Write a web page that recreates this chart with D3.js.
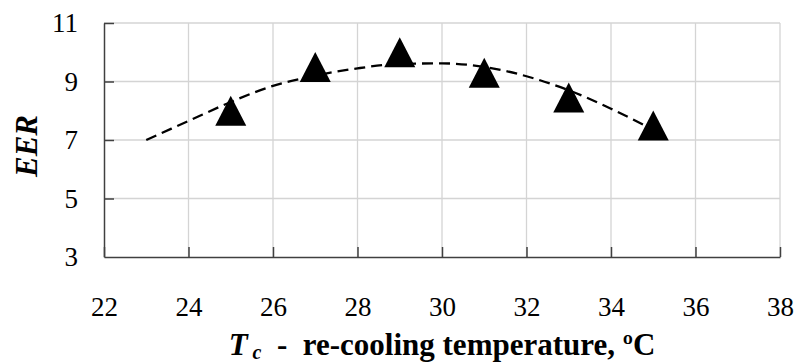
<!DOCTYPE html>
<html>
<head>
<meta charset="utf-8">
<style>
    body { margin: 0; background: #fff; }
    svg { display: block; font-family: "Liberation Serif", "DejaVu Serif", serif; }
    .axis path, .axis line { stroke: #404040; stroke-width: 1.5; }
    .axis text { font-size: 27px; fill: #000; font-family: "Liberation Serif", "DejaVu Serif", serif; }
    .grid line { stroke: #d4d4d4; stroke-width: 1.3; }
</style>
</head>
<body>
<svg width="796" height="362"></svg>
<script src="https://d3js.org/d3.v7.min.js"></script>
<script>
    // measured triangles (EER vs re-cooling temperature)
    let tempMeasured = [25, 27, 29, 31, 33, 35];
    let eerMeasured = [8.0, 9.5, 10.0, 9.3, 8.45, 7.5];

    // dashed curve
    let tempCurve = [23, 24, 25, 26, 27, 28, 29, 30, 31, 32, 33, 34, 35];
    let eerCurve = [7.0, 7.65, 8.3, 8.85, 9.2, 9.45, 9.6, 9.62, 9.5, 9.18, 8.7, 8.07, 7.35];

    let xTicks = [22, 24, 26, 28, 30, 32, 34, 36, 38];
    let yTicks = [3, 5, 7, 9, 11];

    let margin = { top: 23, right: 16, bottom: 105, left: 104 };
    let width = 796, height = 362;
    let w = width - margin.left - margin.right;
    let h = height - margin.top - margin.bottom;

    let svg = d3.select("svg");
    let g = svg.append("g").attr("transform", `translate(${margin.left},${margin.top})`);

    let x = d3.scaleLinear().domain([22, 38]).range([0, w]);
    let y = d3.scaleLinear().domain([3, 11]).range([h, 0]);

    // gridlines
    let grid = g.append("g").attr("class", "grid");
    grid.selectAll(".gx")
        .data(xTicks.slice(1))
        .join("line")
        .attr("x1", d => x(d)).attr("x2", d => x(d))
        .attr("y1", 0).attr("y2", h);
    grid.selectAll(".gy")
        .data(yTicks.slice(1))
        .join("line")
        .attr("x1", 0).attr("x2", w)
        .attr("y1", d => y(d)).attr("y2", d => y(d));

    // axes, ticks point inward
    g.append("g")
        .attr("class", "axis")
        .attr("transform", `translate(0,${h})`)
        .call(d3.axisBottom(x).tickValues(xTicks).tickSize(-10).tickSizeOuter(0).tickPadding(40))
        .attr("font-family", null);

    g.append("g")
        .attr("class", "axis")
        .call(d3.axisLeft(y).tickValues(yTicks).tickSize(-10).tickSizeOuter(0).tickPadding(26))
        .attr("font-family", null)
        .call(a => a.selectAll(".tick").filter(d => d == 3).select("line").remove());

    g.selectAll(".axis text").style("font-family", "'Liberation Serif', 'DejaVu Serif', serif");

    // dashed curve
    let line = d3.line()
        .x((d, i) => x(tempCurve[i]))
        .y(d => y(d))
        .curve(d3.curveMonotoneX);

    g.append("path")
        .datum(eerCurve)
        .attr("d", line)
        .attr("fill", "none")
        .attr("stroke", "#000")
        .attr("stroke-width", 2.3)
        .attr("stroke-dasharray", "11,6");

    // triangle markers, box centred on the point
    let tri = "M0,-15L15.5,15L-15.5,15Z";
    g.selectAll(".tri")
        .data(tempMeasured)
        .join("path")
        .attr("class", "tri")
        .attr("d", tri)
        .attr("transform", (d, i) => `translate(${x(d)},${y(eerMeasured[i])})`)
        .attr("fill", "#000");

    // axis titles
    svg.append("text")
        .attr("transform", `translate(37,${margin.top + y(7) + 6}) rotate(-90)`)
        .attr("text-anchor", "middle")
        .style("font-family", "'Liberation Serif', 'DejaVu Serif', serif")
        .style("font-size", "31px")
        .style("font-weight", "bold")
        .style("font-style", "italic")
        .text("EER");

    let xt = svg.append("text")
        .attr("x", margin.left + w / 2)
        .attr("y", 355)
        .attr("text-anchor", "middle")
        .style("font-family", "'Liberation Serif', 'DejaVu Serif', serif")
        .style("font-size", "31px")
        .style("font-weight", "bold")
        .attr("xml:space", "preserve");
    xt.append("tspan").style("font-style", "italic").text("T");
    xt.append("tspan").style("font-style", "italic").style("font-size", "20px").attr("dy", 4).text(" c");
    xt.append("tspan").attr("dy", -4).text("  -  re-cooling temperature, ºC");
</script>
</body>
</html>
